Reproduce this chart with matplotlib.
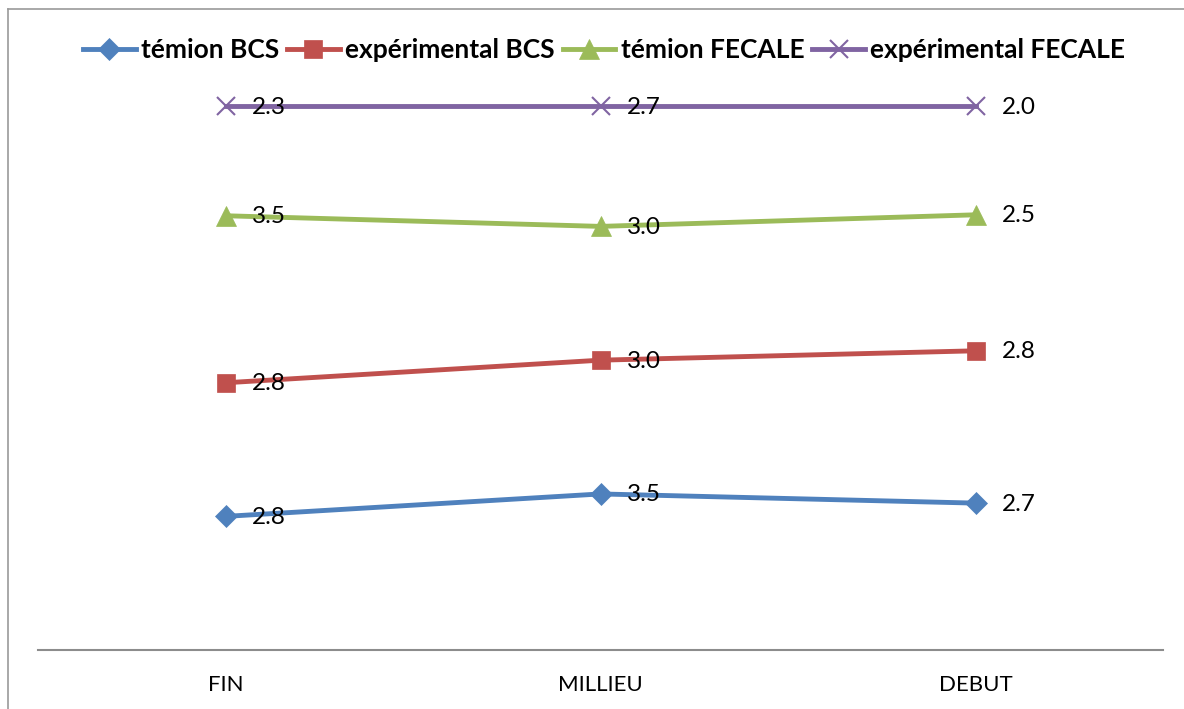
import numpy as np
import matplotlib
matplotlib.use("Agg")
import matplotlib.pyplot as plt
from matplotlib.lines import Line2D

plt.rcParams['font.family'] = ['Lato', 'DejaVu Sans']

# Data
categories = ["FIN", "MILLIEU", "DEBUT"]
series_names = ["témion BCS", "expérimental BCS", "témion FECALE", "expérimental FECALE"]
temoin_bcs = [2.8, 3.5, 2.7]
experimental_bcs = [2.8, 3.0, 2.8]
temoin_fecale = [3.5, 3.0, 2.5]
experimental_fecale = [2.3, 2.7, 2.0]

colors = ["#4F81BD", "#C0504D", "#9BBB59", "#8064A2"]
markers = ["D", "s", "^", "x"]
msizes = [11, 13, 14, 13]

values = np.array([temoin_bcs, experimental_bcs, temoin_fecale, experimental_fecale])
# 100% stacked lines
shares = np.cumsum(values, axis=0) / values.sum(axis=0)

W, H = 1184, 709
fig = plt.figure(figsize=(W / 100, H / 100), dpi=100)
ax = fig.add_axes([38 / W, 59 / H, (1163 - 38) / W, 544 / H])

x = np.arange(len(categories))
handles = []
for i in range(len(series_names)):
    mew = 1.5 if markers[i] == "x" else 0.5
    ln, = ax.plot(x, shares[i], color=colors[i], lw=3.5, marker=markers[i],
                  markersize=msizes[i], markeredgewidth=mew,
                  markeredgecolor=colors[i], clip_on=False, zorder=3,
                  label=series_names[i])
    handles.append(ln)
    for xi, yi, v in zip(x, shares[i], values[i]):
        ax.annotate(f"{v:.1f}", (xi, yi), xytext=(26, -1), textcoords="offset pixels",
                    ha="left", va="center", fontsize=17.5, color="black", zorder=4)

ax.set_xlim(-0.5, 2.5)
ax.set_ylim(0, 1)
ax.set_xticks(x)
ax.set_xticklabels(categories, fontsize=16)
ax.tick_params(axis="x", length=0, pad=18)
ax.set_yticks([])
for s in ["top", "right", "left"]:
    ax.spines[s].set_visible(False)
ax.spines["bottom"].set_color("#8C8C8C")
ax.spines["bottom"].set_linewidth(1.5)

leg = fig.legend(handles=handles, loc="center", bbox_to_anchor=(604 / W, 1 - 50 / H),
                 ncol=4, frameon=False, handlelength=2.0, handletextpad=0.2,
                 columnspacing=0.3, prop={"weight": "bold", "size": 19})

# Chart area frame (left and top edges)
fig.add_artist(Line2D([8 / W, 8 / W], [0, 1 - 9 / H], color="#9A9A9A", lw=1.2,
                      transform=fig.transFigure))
fig.add_artist(Line2D([8 / W, 1], [1 - 9 / H, 1 - 9 / H], color="#9A9A9A", lw=1.2,
                      transform=fig.transFigure))

fig.savefig("out.png", dpi=100)
